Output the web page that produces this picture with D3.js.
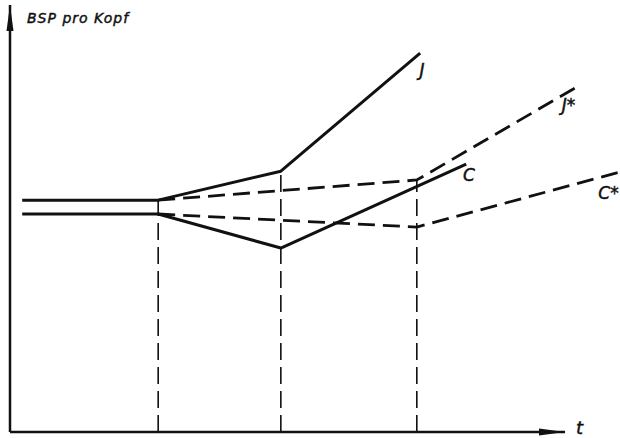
<!DOCTYPE html>
<html>
<head>
<meta charset="utf-8">
<script src="https://cdn.jsdelivr.net/npm/d3@7"></script>
<style>
  body { margin: 0; background: #fff; }
  text { font-family: "DejaVu Sans", sans-serif; font-style: italic; fill: #111; stroke: #111; stroke-width: 0.45; }
</style>
</head>
<body>
<script>
// time points (abstract units) and value levels
let tPoints = [26.7, 48.8, 73.3];
let guideTops = [55.2, 62.1, 60.0];

let seriesJ = [[2.2, 55.2], [26.7, 55.2], [48.8, 62.1], [73.9, 90.2]];
let seriesC = [[2.2, 51.9], [26.7, 51.9], [48.8, 43.8], [82.2, 63.8]];
let seriesJStar = [[26.7, 55.2], [73.3, 60.0], [101.8, 81.9]];
let seriesCStar = [[26.7, 51.9], [73.3, 48.8], [109.9, 61.9]];

let labels = [
	{ text: 'J', t: 73.8, v: 84.8 },
	{ text: 'J*', t: 99.4, v: 76.4 },
	{ text: 'C', t: 81.6, v: 59.8 },
	{ text: 'C*', t: 106.0, v: 55.4 }
];

let yTitle = 'BSP pro Kopf';
let xTitle = 't';

let width = 620, height = 438;

let svg = d3.select('body').append('svg')
	.attr('width', width)
	.attr('height', height);

//scales
let xScale = d3.scaleLinear().domain([0, 100]).range([10, 565]);
let yScale = d3.scaleLinear().domain([0, 100]).range([432, 12]);

//arrow head
svg.append('defs').append('marker')
	.attr('id', 'arrow')
	.attr('viewBox', '0 0 26 8')
	.attr('refX', 26)
	.attr('refY', 4)
	.attr('markerWidth', 26)
	.attr('markerHeight', 8)
	.attr('markerUnits', 'userSpaceOnUse')
	.attr('orient', 'auto')
	.append('path')
	.attr('d', 'M0,0.5 L26,4 L0,7.5 z')
	.attr('fill', '#111');

//axes
svg.append('line')
	.attr('x1', xScale(0)).attr('y1', yScale(0))
	.attr('x2', xScale(0)).attr('y2', 5)
	.attr('stroke', '#111').attr('stroke-width', 2.5)
	.attr('marker-end', 'url(#arrow)');

svg.append('line')
	.attr('x1', xScale(0)).attr('y1', yScale(0))
	.attr('x2', xScale(100)).attr('y2', yScale(0))
	.attr('stroke', '#111').attr('stroke-width', 2.5)
	.attr('marker-end', 'url(#arrow)');

//vertical dashed guides
svg.append('g')
	.selectAll('line')
	.data(tPoints)
	.enter()
	.append('line')
	.attr('x1', function(d) { return xScale(d) })
	.attr('x2', function(d) { return xScale(d) })
	.attr('y1', yScale(0))
	.attr('y2', function(d, i) { return yScale(guideTops[i]) })
	.attr('stroke', '#111')
	.attr('stroke-width', 1.6)
	.attr('stroke-dasharray', '17,7');

let line = d3.line()
	.x(function(d) { return xScale(d[0]) })
	.y(function(d) { return yScale(d[1]) });

//dashed series
[seriesJStar, seriesCStar].forEach(function(s) {
	svg.append('path')
		.attr('d', line(s))
		.attr('fill', 'none')
		.attr('stroke', '#111')
		.attr('stroke-width', 2.8)
		.attr('stroke-dasharray', '17,8');
});

//solid series
[seriesJ, seriesC].forEach(function(s) {
	svg.append('path')
		.attr('d', line(s))
		.attr('fill', 'none')
		.attr('stroke', '#111')
		.attr('stroke-width', 3)
		.attr('stroke-linejoin', 'round');
});

//labels
svg.append('g')
	.selectAll('text')
	.data(labels)
	.enter()
	.append('text')
	.attr('x', function(d) { return xScale(d.t) })
	.attr('y', function(d) { return yScale(d.v) })
	.attr('font-size', '17px')
	.text(function(d) { return d.text });

svg.append('text')
	.attr('x', 27)
	.attr('y', 23)
	.attr('font-size', '14px')
	.attr('letter-spacing', '1px')
	.text(yTitle);

svg.append('text')
	.attr('x', 576)
	.attr('y', 434)
	.attr('font-size', '18px')
	.text(xTitle);
</script>
</body>
</html>
